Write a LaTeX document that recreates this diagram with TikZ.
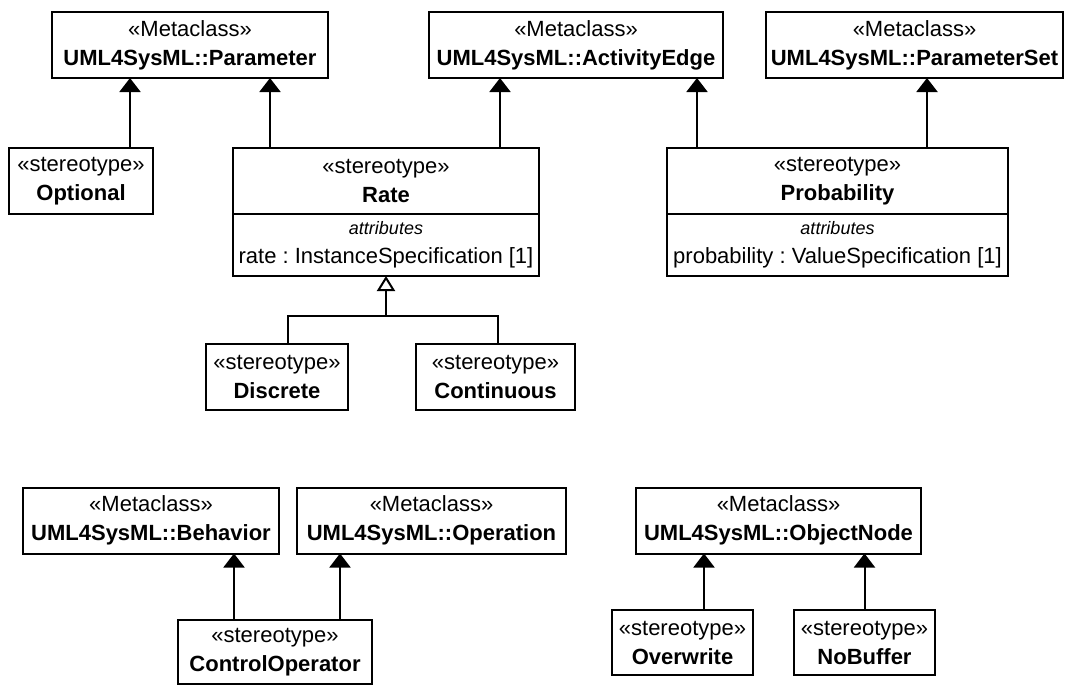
\documentclass[tikz,border=0pt]{standalone}
\usepackage{fontspec}
\setmainfont{Liberation Sans}
\usetikzlibrary{positioning,calc,arrows.meta}
\tikzset{ext/.style={-{Triangle[width=10.5pt,length=7pt]}, line width=1pt},
    gen/.style={-{Triangle[open,width=9pt,length=7.5pt]}, line width=1pt}
}
\tikzstyle{block} = [draw, rectangle, line width=1pt, align=center, inner sep=0pt, outer sep=0pt, minimum height=33pt, font=\fontsize{11}{14.5}\selectfont\frenchspacing]
\tikzstyle{attrs} = [block, minimum height=31pt]

\begin{document}
\begin{tikzpicture}[x=0.5pt, y=-0.5pt]
    \useasboundingbox (0,0) rectangle (1066,685);

    \node [block, minimum width=138pt] (param) at (190,45) {«Metaclass»\\\textbf{UML4SysML::Parameter}};
    \node [block, minimum width=147pt] (activity) at (576,45) {«Metaclass»\\\textbf{UML4SysML::ActivityEdge}};
    \node [block, minimum width=148.5pt] (paramset) at (914.5,45) {«Metaclass»\\\textbf{UML4SysML::ParameterSet}};

    \node [block, minimum width=72pt] (optional) at (81,181) {«stereotype»\\\textbf{Optional}};
    \node [block, minimum width=153pt] (rate) at (386,181) {«stereotype»\\\textbf{Rate}};
    \node [attrs, minimum width=153pt, below=0pt of rate] (rateattr) {{\fontsize{9}{11}\selectfont\itshape attributes}\\rate : InstanceSpecification [1]};
    \node [block, minimum width=170.5pt] (prob) at (837.5,181) {«stereotype»\\\textbf{Probability}};
    \node [attrs, minimum width=170.5pt, below=0pt of prob] (probattr) {{\fontsize{9}{11}\selectfont\itshape attributes}\\probability : ValueSpecification [1]};

    \node [block, minimum width=71pt] (discrete) at (277,377) {«stereotype»\\\textbf{Discrete}};
    \node [block, minimum width=79.5pt] (continuous) at (495.5,377) {«stereotype»\\\textbf{Continuous}};

    \node [block, minimum width=128pt] (behavior) at (151,520.5) {«Metaclass»\\\textbf{UML4SysML::Behavior}};
    \node [block, minimum width=134.5pt] (operation) at (431.5,520.5) {«Metaclass»\\\textbf{UML4SysML::Operation}};
    \node [block, minimum width=142.5pt] (objnode) at (778.5,520.5) {«Metaclass»\\\textbf{UML4SysML::ObjectNode}};

    \node [block, minimum width=97pt, minimum height=32pt] (ctrlop) at (275,652) {«stereotype»\\\textbf{ControlOperator}};
    \node [block, minimum width=70.5pt, minimum height=32.5pt] (overwrite) at (682.5,642.5) {«stereotype»\\\textbf{Overwrite}};
    \node [block, minimum width=70.5pt, minimum height=32.5pt] (nobuffer) at (864.5,642.5) {«stereotype»\\\textbf{NoBuffer}};

    \draw [ext] ([xshift=24.5pt]optional.north) -- ([xshift=24.5pt]optional.north |- param.south);
    \draw [ext] ([xshift=-58pt]rate.north) -- ([xshift=-58pt]rate.north |- param.south);
    \draw [ext] ([xshift=57pt]rate.north) -- ([xshift=57pt]rate.north |- activity.south);
    \draw [ext] ([xshift=-70.25pt]prob.north) -- ([xshift=-70.25pt]prob.north |- activity.south);
    \draw [ext] ([xshift=44.75pt]prob.north) -- ([xshift=44.75pt]prob.north |- paramset.south);

    % generalization of Rate
    \coordinate (join) at (386,316);
    \draw [line width=1pt] ([xshift=5.5pt]discrete.north) |- (join) -| ([xshift=1.25pt]continuous.north);
    \draw [gen] (join) -- (rateattr.south);

    \draw [ext] ([xshift=-20.5pt]ctrlop.north) -- ([xshift=-20.5pt]ctrlop.north |- behavior.south);
    \draw [ext] ([xshift=32.5pt]ctrlop.north) -- ([xshift=32.5pt]ctrlop.north |- operation.south);
    \draw [ext] ([xshift=10.75pt]overwrite.north) -- ([xshift=10.75pt]overwrite.north |- objnode.south);
    \draw [ext] (nobuffer.north) -- (nobuffer.north |- objnode.south);
\end{tikzpicture}
\end{document}
